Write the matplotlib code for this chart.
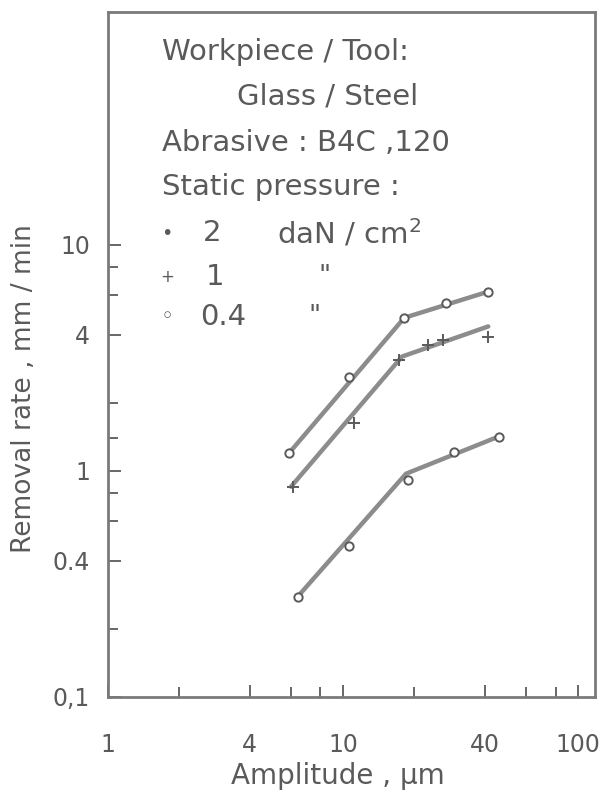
import matplotlib
matplotlib.use('Agg')
import matplotlib.pyplot as plt
from matplotlib.ticker import FixedLocator, NullFormatter

plt.rcParams['font.family'] = ['DejaVu Sans']

# measured points, amplitude (um) vs removal rate (mm/min)
amp_p2 = [5.9, 10.6, 18.2, 27.4, 41.4]
rate_p2 = [1.20, 2.61, 4.75, 5.54, 6.2]

amp_p1 = [6.1, 11.1, 17.3, 23.0, 26.7, 41.4]
rate_p1 = [0.85, 1.62, 3.10, 3.61, 3.80, 3.92]

amp_p04 = [6.4, 10.6, 18.9, 29.7, 46.1]
rate_p04 = [0.277, 0.466, 0.91, 1.21, 1.41]

# hand drawn fit lines (two segments each)
fit_amp_p2 = [5.9, 18.2, 41.4]
fit_rate_p2 = [1.20, 4.75, 6.2]
fit_amp_p1 = [6.0, 17.8, 41.4]
fit_rate_p1 = [0.85, 3.2, 4.35]
fit_amp_p04 = [6.4, 18.5, 46.1]
fit_rate_p04 = [0.277, 0.97, 1.42]

x_major = [1, 4, 10, 40, 100]
x_minor = [2, 6, 8, 20, 60, 80]
y_major = [0.1, 0.4, 1, 4, 10]
y_minor = [0.2, 0.6, 0.8, 1.4, 2, 6, 8]

ink = '#5a5a5a'
line_col = '#8c8c8c'

fig = plt.figure(figsize=(6, 8), dpi=100)
ax = fig.add_axes([0.18, 0.129, 0.812, 0.856])
ax.set_xscale('log')
ax.set_yscale('log')
ax.set_xlim(1, 118)
ax.set_ylim(0.1, 107)

# fit lines
for xs, ys in [(fit_amp_p2, fit_rate_p2), (fit_amp_p1, fit_rate_p1),
               (fit_amp_p04, fit_rate_p04)]:
    ax.plot(xs, ys, '-', color=line_col, lw=3.2, solid_capstyle='round', zorder=2)

# data points
ax.plot(amp_p2, rate_p2, 'o', ms=6, mfc='white', mec=ink, mew=1.4, zorder=3)
ax.plot(amp_p1, rate_p1, '+', ms=9, mec=ink, mew=1.4, zorder=3)
ax.plot(amp_p04, rate_p04, 'o', ms=6, mfc='white', mec=ink, mew=1.4, zorder=3)

# ticks
ax.xaxis.set_major_locator(FixedLocator(x_major))
ax.xaxis.set_minor_locator(FixedLocator(x_minor))
ax.yaxis.set_major_locator(FixedLocator(y_major))
ax.yaxis.set_minor_locator(FixedLocator(y_minor))
ax.set_xticklabels(['1', '4', '10', '40', '100'])
ax.set_yticklabels(['0,1', '0.4', '1', '4', '10'])
ax.xaxis.set_minor_formatter(NullFormatter())
ax.yaxis.set_minor_formatter(NullFormatter())
ax.tick_params(axis='both', which='both', direction='in', color=ink, width=1.3,
               labelcolor=ink, labelsize=17)
ax.tick_params(axis='both', which='major', length=9)
ax.tick_params(axis='both', which='minor', length=7)
ax.tick_params(axis='x', which='both', pad=26)
ax.tick_params(axis='y', which='both', pad=13)
ax.tick_params(top=False, right=False, which='both')

for s in ax.spines.values():
    s.set_color('#7a7a7a')
    s.set_linewidth(2)

ax.set_xlabel('Amplitude , μm', fontsize=20, color=ink)
ax.set_ylabel('Removal rate , mm / min', fontsize=19, color=ink)
ax.xaxis.set_label_coords(0.472, -0.095)
ax.yaxis.set_label_coords(-0.145, 0.45)

# annotation block
fs = 21
tk = dict(transform=ax.transAxes, fontsize=fs, color=ink, va='center', ha='left')
ax.text(0.111, 0.942, 'Workpiece / Tool:', **tk)
ax.text(0.265, 0.876, 'Glass / Steel', **tk)
ax.text(0.111, 0.809, 'Abrasive : B4C ,120', **tk)
ax.text(0.111, 0.745, 'Static pressure :', **tk)

ax.text(0.121, 0.677, '•', transform=ax.transAxes, fontsize=14, color=ink,
        va='center', ha='center')
ax.text(0.195, 0.677, '2', **tk)
ax.text(0.347, 0.677, 'daN / cm$^2$', **tk)

ax.text(0.121, 0.613, '+', transform=ax.transAxes, fontsize=12, color=ink,
        va='center', ha='center')
ax.text(0.200, 0.613, '1', **tk)
ax.text(0.431, 0.613, '"', transform=ax.transAxes, fontsize=19, color=ink,
        va='center', ha='left', style='italic')

ax.text(0.121, 0.555, '◦', transform=ax.transAxes, fontsize=16, color=ink,
        va='center', ha='center')
ax.text(0.189, 0.555, '0.4', **tk)
ax.text(0.411, 0.555, '"', transform=ax.transAxes, fontsize=19, color=ink,
        va='center', ha='left', style='italic')

fig.savefig('out.png', dpi=100)
